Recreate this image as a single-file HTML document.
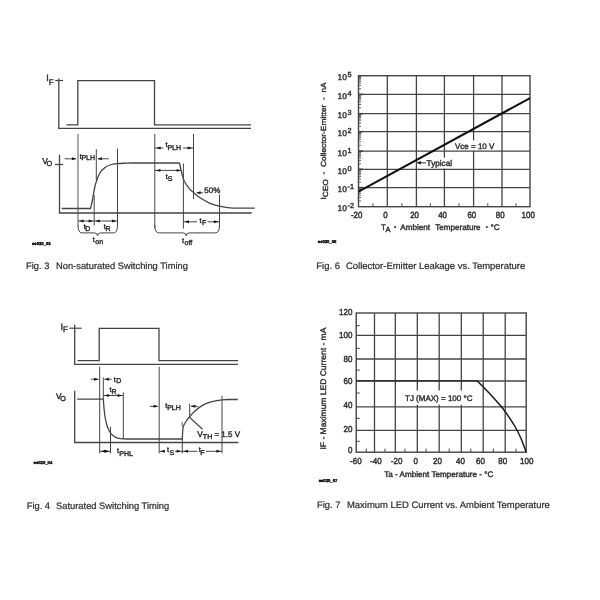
<!DOCTYPE html>
<html><head><meta charset="utf-8"><style>
html,body{margin:0;padding:0;background:#fff;width:600px;height:600px;overflow:hidden}
svg{position:absolute;left:0;top:0;font-family:"Liberation Sans",sans-serif;will-change:transform}
text{text-rendering:geometricPrecision;white-space:pre;stroke:#2e2e2e;stroke-width:0.4px}
.cap{stroke-width:0.22px}
</style></head><body>
<svg width="600" height="600" viewBox="0 0 600 600">
<rect width="600" height="600" fill="#fff"/>
<path d="M58.8,78.5 V128.4 H251" fill="none" stroke="#444" stroke-width="1.3" />
<line x1="55.3" y1="80.5" x2="63" y2="80.5" stroke="#444" stroke-width="1.2" />
<path d="M66.5,124.8 H77.8 V80.6 H154.5 V124.8 H251" fill="none" stroke="#444" stroke-width="1.3" />
<text x="46.3" y="81.0" font-size="9" fill="#2e2e2e">I<tspan font-size="8" dy="3.6">F</tspan></text>
<path d="M59.5,154.7 V213.0 H251.7" fill="none" stroke="#444" stroke-width="1.3" />
<line x1="55" y1="164.5" x2="63.3" y2="164.5" stroke="#444" stroke-width="1.2" />
<text x="42.3" y="163.7" font-size="8.4" fill="#2e2e2e">V</text>
<text x="46.6" y="166.0" font-size="7.4" fill="#2e2e2e">O</text>
<path d="M61.7,208.5 H90.5  C90.83,207.08 91.83,203.33 92.5,200 C93.17,196.67 93.83,191.67 94.5,188.5 C95.17,185.33 95.58,183.62 96.5,181 C97.42,178.38 98.58,175.07 100,172.8 C101.42,170.53 103.33,168.70 105,167.4 C106.67,166.10 108.00,165.62 110,165.0 C112.00,164.38 114.50,164.00 117,163.7 C119.50,163.40 122.00,163.32 125,163.2 C128.00,163.08 133.33,163.03 135,163.0 H179.5" fill="none" stroke="#444" stroke-width="1.3" />
<path d="M179.5,163.0 C179.75,164.17 180.42,167.58 181,170 C181.58,172.42 182.33,175.42 183,177.5 C183.67,179.58 183.83,180.53 185,182.5 C186.17,184.47 188.58,187.63 190,189.3 C191.42,190.97 191.83,191.08 193.5,192.5 C195.17,193.92 197.25,196.00 200,197.8 C202.75,199.60 206.75,201.90 210,203.3 C213.25,204.70 216.17,205.45 219.5,206.2 C222.83,206.95 226.58,207.47 230,207.8 C233.42,208.13 238.33,208.13 240,208.2 H254.7" fill="none" stroke="#444" stroke-width="1.3" />
<line x1="78" y1="133.8" x2="78" y2="226" stroke="#444" stroke-width="0.9" />
<line x1="96.3" y1="149.2" x2="96.3" y2="180" stroke="#444" stroke-width="1.0" />
<line x1="94.2" y1="195" x2="94.2" y2="225.5" stroke="#444" stroke-width="1.0" />
<line x1="117.5" y1="148.5" x2="117.5" y2="226" stroke="#444" stroke-width="1.0" />
<line x1="154.8" y1="134" x2="154.8" y2="228" stroke="#444" stroke-width="1.0" />
<line x1="183.4" y1="163.5" x2="183.4" y2="228.5" stroke="#444" stroke-width="1.0" />
<line x1="193.5" y1="134" x2="193.5" y2="199" stroke="#444" stroke-width="1.0" />
<line x1="219.5" y1="194.5" x2="219.5" y2="227" stroke="#444" stroke-width="1.0" />
<line x1="64.6" y1="158.8" x2="76" y2="158.8" stroke="#444" stroke-width="1.0" />
<polygon points="76.3,158.8 71.89999999999999,157.35000000000002 71.89999999999999,160.25" fill="#151515"/>
<line x1="108.7" y1="158.8" x2="98" y2="158.8" stroke="#444" stroke-width="1.0" />
<polygon points="97.5,158.8 101.9,157.35000000000002 101.9,160.25" fill="#151515"/>
<text x="79.7" y="158.5" font-size="7.2" fill="#2e2e2e">t</text>
<text x="81.4" y="160.1" font-size="7.0" fill="#2e2e2e">PLH</text>
<line x1="155" y1="148" x2="163.5" y2="148" stroke="#444" stroke-width="1.0" />
<polygon points="156.2,148 160.6,146.55 160.6,149.45" fill="#151515"/>
<text x="165.4" y="147.1" font-size="7.2" fill="#2e2e2e">t</text>
<text x="167.4" y="149.7" font-size="7.0" fill="#2e2e2e">PLH</text>
<line x1="183" y1="148" x2="193.3" y2="148" stroke="#444" stroke-width="1.0" />
<polygon points="192.1,148 187.7,146.55 187.7,149.45" fill="#151515"/>
<line x1="154.8" y1="170.4" x2="181" y2="170.4" stroke="#444" stroke-width="1.0" />
<polygon points="156.0,170.4 160.4,168.95000000000002 160.4,171.85" fill="#151515"/>
<polygon points="181.0,170.4 176.6,168.95000000000002 176.6,171.85" fill="#151515"/>
<text x="165.7" y="178.5" font-size="7.2" fill="#2e2e2e">t</text>
<text x="167.7" y="181.4" font-size="7.0" fill="#2e2e2e">S</text>
<text x="204.3" y="193.2" font-size="8" text-anchor="start" fill="#2e2e2e" >50%</text>
<line x1="203" y1="192.8" x2="197" y2="192.8" stroke="#444" stroke-width="1.0" />
<polygon points="196.2,192.8 200.6,191.35000000000002 200.6,194.25" fill="#151515"/>
<line x1="78" y1="221.0" x2="94.2" y2="221.0" stroke="#444" stroke-width="1.0" />
<polygon points="79.2,221.0 83.60000000000001,219.55 83.60000000000001,222.45" fill="#151515"/>
<polygon points="93.0,221.0 88.6,219.55 88.6,222.45" fill="#151515"/>
<line x1="94.2" y1="221.0" x2="117.5" y2="221.0" stroke="#444" stroke-width="1.0" />
<polygon points="95.4,221.0 99.80000000000001,219.55 99.80000000000001,222.45" fill="#151515"/>
<polygon points="116.3,221.0 111.89999999999999,219.55 111.89999999999999,222.45" fill="#151515"/>
<text x="83.7" y="228.8" font-size="7.2" fill="#2e2e2e">t</text>
<text x="85.3" y="231.4" font-size="7.0" fill="#2e2e2e">D</text>
<text x="103.7" y="228.8" font-size="7.2" fill="#2e2e2e">t</text>
<text x="105.4" y="231.4" font-size="7.0" fill="#2e2e2e">R</text>
<path d="M78,225 Q78,232.9 82,232.9 L94.5,232.9 Q97.5,232.9 97.5,235.9 Q97.5,232.9 100.5,232.9 L113.5,232.9 Q117.5,232.9 117.5,225" fill="none" stroke="#444" stroke-width="1.0" />
<text x="92.7" y="241.8" font-size="7.2" fill="#2e2e2e">t</text>
<text x="95.3" y="244.0" font-size="7.0" fill="#2e2e2e">on</text>
<line x1="183.4" y1="221.8" x2="197" y2="221.8" stroke="#444" stroke-width="1.0" />
<polygon points="184.6,221.8 189.0,220.35000000000002 189.0,223.25" fill="#151515"/>
<line x1="207.5" y1="221.8" x2="219.5" y2="221.8" stroke="#444" stroke-width="1.0" />
<polygon points="218.3,221.8 213.9,220.35000000000002 213.9,223.25" fill="#151515"/>
<text x="199.4" y="222.6" font-size="7.2" fill="#2e2e2e">t</text>
<text x="202.0" y="225.0" font-size="7.0" fill="#2e2e2e">F</text>
<path d="M154.8,225 Q154.8,232.9 158.8,232.9 L183.2,232.9 Q186.2,232.9 186.2,235.9 Q186.2,232.9 189.2,232.9 L215.5,232.9 Q219.5,232.9 219.5,225" fill="none" stroke="#444" stroke-width="1.0" />
<text x="182.1" y="242.7" font-size="7.2" fill="#2e2e2e">t</text>
<text x="184.6" y="244.8" font-size="7.0" fill="#2e2e2e">off</text>
<text x="32" y="245" font-size="4.2" text-anchor="start" fill="#000" font-weight="bold" style="stroke:#000;stroke-width:0.35px">ee020_03</text>
<text x="26" y="269.2" font-size="9.35" text-anchor="start" fill="#2e2e2e" class="cap">Fig. 3</text>
<text x="56" y="269.2" font-size="9.35" text-anchor="start" fill="#2e2e2e" class="cap">Non-saturated Switching Timing</text>
<line x1="387.3" y1="75.7" x2="387.3" y2="206.7" stroke="#444" stroke-width="1.3" />
<line x1="416.4" y1="75.7" x2="416.4" y2="206.7" stroke="#444" stroke-width="1.3" />
<line x1="444.4" y1="75.7" x2="444.4" y2="157.6" stroke="#444" stroke-width="1.3" />
<line x1="444.4" y1="168.6" x2="444.4" y2="206.7" stroke="#444" stroke-width="1.3" />
<line x1="473.6" y1="75.7" x2="473.6" y2="140.3" stroke="#444" stroke-width="1.3" />
<line x1="473.6" y1="150.6" x2="473.6" y2="206.7" stroke="#444" stroke-width="1.3" />
<line x1="502.0" y1="75.7" x2="502.0" y2="206.7" stroke="#444" stroke-width="1.3" />
<line x1="358.5" y1="94.4" x2="530.0" y2="94.4" stroke="#444" stroke-width="1.3" />
<line x1="358.5" y1="113.7" x2="530.0" y2="113.7" stroke="#444" stroke-width="1.3" />
<line x1="358.5" y1="131.7" x2="530.0" y2="131.7" stroke="#444" stroke-width="1.3" />
<line x1="358.5" y1="151.2" x2="530.0" y2="151.2" stroke="#444" stroke-width="1.3" />
<line x1="358.5" y1="169.3" x2="530.0" y2="169.3" stroke="#444" stroke-width="1.3" />
<line x1="358.5" y1="187.6" x2="530.0" y2="187.6" stroke="#444" stroke-width="1.3" />
<rect x="358.5" y="75.7" width="171.5" height="131.0" fill="none" stroke="#444" stroke-width="1.4"/>
<line x1="358.5" y1="88.77" x2="361.1" y2="88.77" stroke="#444" stroke-width="0.8" />
<line x1="358.5" y1="85.48" x2="361.1" y2="85.48" stroke="#444" stroke-width="0.8" />
<line x1="358.5" y1="83.14" x2="361.1" y2="83.14" stroke="#444" stroke-width="0.8" />
<line x1="358.5" y1="81.33" x2="361.1" y2="81.33" stroke="#444" stroke-width="0.8" />
<line x1="358.5" y1="79.85" x2="361.1" y2="79.85" stroke="#444" stroke-width="0.8" />
<line x1="358.5" y1="78.6" x2="361.1" y2="78.6" stroke="#444" stroke-width="0.8" />
<line x1="358.5" y1="77.51" x2="361.1" y2="77.51" stroke="#444" stroke-width="0.8" />
<line x1="358.5" y1="76.56" x2="361.1" y2="76.56" stroke="#444" stroke-width="0.8" />
<line x1="358.5" y1="107.89" x2="361.1" y2="107.89" stroke="#444" stroke-width="0.8" />
<line x1="358.5" y1="104.49" x2="361.1" y2="104.49" stroke="#444" stroke-width="0.8" />
<line x1="358.5" y1="102.08" x2="361.1" y2="102.08" stroke="#444" stroke-width="0.8" />
<line x1="358.5" y1="100.21" x2="361.1" y2="100.21" stroke="#444" stroke-width="0.8" />
<line x1="358.5" y1="98.68" x2="361.1" y2="98.68" stroke="#444" stroke-width="0.8" />
<line x1="358.5" y1="97.39" x2="361.1" y2="97.39" stroke="#444" stroke-width="0.8" />
<line x1="358.5" y1="96.27" x2="361.1" y2="96.27" stroke="#444" stroke-width="0.8" />
<line x1="358.5" y1="95.28" x2="361.1" y2="95.28" stroke="#444" stroke-width="0.8" />
<line x1="358.5" y1="126.28" x2="361.1" y2="126.28" stroke="#444" stroke-width="0.8" />
<line x1="358.5" y1="123.11" x2="361.1" y2="123.11" stroke="#444" stroke-width="0.8" />
<line x1="358.5" y1="120.86" x2="361.1" y2="120.86" stroke="#444" stroke-width="0.8" />
<line x1="358.5" y1="119.12" x2="361.1" y2="119.12" stroke="#444" stroke-width="0.8" />
<line x1="358.5" y1="117.69" x2="361.1" y2="117.69" stroke="#444" stroke-width="0.8" />
<line x1="358.5" y1="116.49" x2="361.1" y2="116.49" stroke="#444" stroke-width="0.8" />
<line x1="358.5" y1="115.44" x2="361.1" y2="115.44" stroke="#444" stroke-width="0.8" />
<line x1="358.5" y1="114.52" x2="361.1" y2="114.52" stroke="#444" stroke-width="0.8" />
<line x1="358.5" y1="145.33" x2="361.1" y2="145.33" stroke="#444" stroke-width="0.8" />
<line x1="358.5" y1="141.9" x2="361.1" y2="141.9" stroke="#444" stroke-width="0.8" />
<line x1="358.5" y1="139.46" x2="361.1" y2="139.46" stroke="#444" stroke-width="0.8" />
<line x1="358.5" y1="137.57" x2="361.1" y2="137.57" stroke="#444" stroke-width="0.8" />
<line x1="358.5" y1="136.03" x2="361.1" y2="136.03" stroke="#444" stroke-width="0.8" />
<line x1="358.5" y1="134.72" x2="361.1" y2="134.72" stroke="#444" stroke-width="0.8" />
<line x1="358.5" y1="133.59" x2="361.1" y2="133.59" stroke="#444" stroke-width="0.8" />
<line x1="358.5" y1="132.59" x2="361.1" y2="132.59" stroke="#444" stroke-width="0.8" />
<line x1="358.5" y1="163.85" x2="361.1" y2="163.85" stroke="#444" stroke-width="0.8" />
<line x1="358.5" y1="160.66" x2="361.1" y2="160.66" stroke="#444" stroke-width="0.8" />
<line x1="358.5" y1="158.4" x2="361.1" y2="158.4" stroke="#444" stroke-width="0.8" />
<line x1="358.5" y1="156.65" x2="361.1" y2="156.65" stroke="#444" stroke-width="0.8" />
<line x1="358.5" y1="155.22" x2="361.1" y2="155.22" stroke="#444" stroke-width="0.8" />
<line x1="358.5" y1="154.0" x2="361.1" y2="154.0" stroke="#444" stroke-width="0.8" />
<line x1="358.5" y1="152.95" x2="361.1" y2="152.95" stroke="#444" stroke-width="0.8" />
<line x1="358.5" y1="152.03" x2="361.1" y2="152.03" stroke="#444" stroke-width="0.8" />
<line x1="358.5" y1="182.09" x2="361.1" y2="182.09" stroke="#444" stroke-width="0.8" />
<line x1="358.5" y1="178.87" x2="361.1" y2="178.87" stroke="#444" stroke-width="0.8" />
<line x1="358.5" y1="176.58" x2="361.1" y2="176.58" stroke="#444" stroke-width="0.8" />
<line x1="358.5" y1="174.81" x2="361.1" y2="174.81" stroke="#444" stroke-width="0.8" />
<line x1="358.5" y1="173.36" x2="361.1" y2="173.36" stroke="#444" stroke-width="0.8" />
<line x1="358.5" y1="172.13" x2="361.1" y2="172.13" stroke="#444" stroke-width="0.8" />
<line x1="358.5" y1="171.07" x2="361.1" y2="171.07" stroke="#444" stroke-width="0.8" />
<line x1="358.5" y1="170.14" x2="361.1" y2="170.14" stroke="#444" stroke-width="0.8" />
<line x1="358.5" y1="200.95" x2="361.1" y2="200.95" stroke="#444" stroke-width="0.8" />
<line x1="358.5" y1="197.59" x2="361.1" y2="197.59" stroke="#444" stroke-width="0.8" />
<line x1="358.5" y1="195.2" x2="361.1" y2="195.2" stroke="#444" stroke-width="0.8" />
<line x1="358.5" y1="193.35" x2="361.1" y2="193.35" stroke="#444" stroke-width="0.8" />
<line x1="358.5" y1="191.84" x2="361.1" y2="191.84" stroke="#444" stroke-width="0.8" />
<line x1="358.5" y1="190.56" x2="361.1" y2="190.56" stroke="#444" stroke-width="0.8" />
<line x1="358.5" y1="189.45" x2="361.1" y2="189.45" stroke="#444" stroke-width="0.8" />
<line x1="358.5" y1="188.47" x2="361.1" y2="188.47" stroke="#444" stroke-width="0.8" />
<line x1="358.5" y1="94.4" x2="363.0" y2="94.4" stroke="#444" stroke-width="1.6" />
<line x1="358.5" y1="113.7" x2="363.0" y2="113.7" stroke="#444" stroke-width="1.6" />
<line x1="358.5" y1="131.7" x2="363.0" y2="131.7" stroke="#444" stroke-width="1.6" />
<line x1="358.5" y1="151.2" x2="363.0" y2="151.2" stroke="#444" stroke-width="1.6" />
<line x1="358.5" y1="169.3" x2="363.0" y2="169.3" stroke="#444" stroke-width="1.6" />
<line x1="358.5" y1="187.6" x2="363.0" y2="187.6" stroke="#444" stroke-width="1.6" />
<line x1="372.9" y1="206.7" x2="372.9" y2="203.2" stroke="#444" stroke-width="0.9" />
<line x1="401.85" y1="206.7" x2="401.85" y2="203.2" stroke="#444" stroke-width="0.9" />
<line x1="430.4" y1="206.7" x2="430.4" y2="203.2" stroke="#444" stroke-width="0.9" />
<line x1="459.0" y1="206.7" x2="459.0" y2="203.2" stroke="#444" stroke-width="0.9" />
<line x1="487.8" y1="206.7" x2="487.8" y2="203.2" stroke="#444" stroke-width="0.9" />
<line x1="516.0" y1="206.7" x2="516.0" y2="203.2" stroke="#444" stroke-width="0.9" />
<line x1="358.5" y1="191.6" x2="530" y2="98.1" stroke="#111" stroke-width="2.0" />
<text x="455" y="148.8" font-size="8" text-anchor="start" fill="#2e2e2e" >Vce = 10 V</text>
<line x1="426" y1="162.8" x2="419" y2="162.8" stroke="#444" stroke-width="1.1" />
<polygon points="416.3,162.8 420.8,161.10000000000002 420.8,164.5" fill="#151515"/>
<text x="426.6" y="166.3" font-size="8.2" text-anchor="start" fill="#2e2e2e" >Typical</text>
<text x="337.5" y="80.0" font-size="8.4" text-anchor="start" fill="#2e2e2e" >10</text>
<text x="347.6" y="77.0" font-size="7.3" text-anchor="start" fill="#2e2e2e" >5</text>
<text x="337.5" y="98.7" font-size="8.4" text-anchor="start" fill="#2e2e2e" >10</text>
<text x="347.6" y="95.7" font-size="7.3" text-anchor="start" fill="#2e2e2e" >4</text>
<text x="337.5" y="118.0" font-size="8.4" text-anchor="start" fill="#2e2e2e" >10</text>
<text x="347.6" y="115.0" font-size="7.3" text-anchor="start" fill="#2e2e2e" >3</text>
<text x="337.5" y="136.0" font-size="8.4" text-anchor="start" fill="#2e2e2e" >10</text>
<text x="347.6" y="133.0" font-size="7.3" text-anchor="start" fill="#2e2e2e" >2</text>
<text x="337.5" y="155.5" font-size="8.4" text-anchor="start" fill="#2e2e2e" >10</text>
<text x="347.6" y="152.5" font-size="7.3" text-anchor="start" fill="#2e2e2e" >1</text>
<text x="337.5" y="173.6" font-size="8.4" text-anchor="start" fill="#2e2e2e" >10</text>
<text x="347.6" y="170.6" font-size="7.3" text-anchor="start" fill="#2e2e2e" >0</text>
<text x="337.5" y="191.9" font-size="8.4" text-anchor="start" fill="#2e2e2e" >10</text>
<text x="347.6" y="188.9" font-size="7.3" text-anchor="start" fill="#2e2e2e" >-1</text>
<text x="337.5" y="211.0" font-size="8.4" text-anchor="start" fill="#2e2e2e" >10</text>
<text x="347.6" y="208.0" font-size="7.3" text-anchor="start" fill="#2e2e2e" >-2</text>
<text transform="translate(356.7,217.7) scale(1,1.12)" font-size="7.9" text-anchor="middle" fill="#2e2e2e" >-20</text>
<text transform="translate(385.5,217.7) scale(1,1.12)" font-size="7.9" text-anchor="middle" fill="#2e2e2e" >0</text>
<text transform="translate(414.6,217.7) scale(1,1.12)" font-size="7.9" text-anchor="middle" fill="#2e2e2e" >20</text>
<text transform="translate(442.6,217.7) scale(1,1.12)" font-size="7.9" text-anchor="middle" fill="#2e2e2e" >40</text>
<text transform="translate(471.8,217.7) scale(1,1.12)" font-size="7.9" text-anchor="middle" fill="#2e2e2e" >60</text>
<text transform="translate(500.2,217.7) scale(1,1.12)" font-size="7.9" text-anchor="middle" fill="#2e2e2e" >80</text>
<text transform="translate(528.2,217.7) scale(1,1.12)" font-size="7.9" text-anchor="middle" fill="#2e2e2e" >100</text>
<text x="380.9" y="229.7" font-size="8.15" text-anchor="start" fill="#2e2e2e" >T</text>
<text x="385.6" y="232.2" font-size="7.5" text-anchor="start" fill="#2e2e2e" >A</text>
<circle cx="395.1" cy="227.1" r="1.05" fill="#2e2e2e"/>
<text x="400.3" y="229.7" font-size="8.15" text-anchor="start" fill="#2e2e2e" >Ambient</text>
<text x="435.2" y="229.7" font-size="8.1" text-anchor="start" fill="#2e2e2e" >Temperature</text>
<circle cx="486.8" cy="227.1" r="1.05" fill="#2e2e2e"/>
<text x="490.6" y="229.7" font-size="8.15" text-anchor="start" fill="#2e2e2e" >°C</text>
<text transform="translate(325.5,199.6) rotate(-90) scale(1,0.88)" x="0" y="0" font-size="8.4" fill="#2e2e2e">I<tspan font-size="8.4" dy="2.7">CEO</tspan><tspan dy="-2.7">  -  Collector-Emitter  -  nA</tspan></text>
<text x="317.8" y="243.1" font-size="4.2" text-anchor="start" fill="#000" font-weight="bold" style="stroke:#000;stroke-width:0.35px">ee020_06</text>
<text x="316.3" y="268.8" font-size="9.45" text-anchor="start" fill="#2e2e2e" class="cap">Fig. 6</text>
<text x="346.0" y="268.8" font-size="9.45" text-anchor="start" fill="#2e2e2e" class="cap">Collector-Emitter Leakage vs. Temperature</text>
<path d="M74.7,324.7 V364.4 H238" fill="none" stroke="#444" stroke-width="1.3" />
<line x1="69.2" y1="328.2" x2="81.7" y2="328.2" stroke="#444" stroke-width="1.2" />
<path d="M77.5,360.6 H99.2 V328.3 H159 V360.6 H238" fill="none" stroke="#444" stroke-width="1.3" />
<text x="60.5" y="329.5" font-size="9" fill="#2e2e2e">I<tspan font-size="8" dy="2.8">F</tspan></text>
<path d="M74.7,390.8 V442.5 H238.3" fill="none" stroke="#444" stroke-width="1.3" />
<text x="56.1" y="398.5" font-size="8.2" fill="#2e2e2e">V</text>
<text x="60.2" y="401.0" font-size="7.2" fill="#2e2e2e">O</text>
<path d="M77.2,399.2 H103.3  C103.42,400.67 103.68,404.87 104,408 C104.32,411.13 104.62,414.83 105.2,418 C105.78,421.17 106.53,424.38 107.5,427 C108.47,429.62 109.58,431.93 111,433.7 C112.42,435.47 113.92,436.73 116,437.6 C118.08,438.47 121.17,438.67 123.5,438.9 C125.83,439.13 128.92,438.98 130,439.0 H182.3" fill="none" stroke="#444" stroke-width="1.3" />
<path d="M182.3,439.0 C182.38,437.50 182.60,432.17 182.8,430 C183.00,427.83 182.97,427.42 183.5,426 C184.03,424.58 185.03,423.00 186,421.5 C186.97,420.00 187.80,418.75 189.3,417 C190.80,415.25 192.88,412.90 195,411 C197.12,409.10 199.50,407.07 202,405.6 C204.50,404.13 206.67,403.17 210,402.2 C213.33,401.23 218.67,400.25 222,399.8 C225.33,399.35 228.67,399.55 230,399.5 H237.8" fill="none" stroke="#444" stroke-width="1.3" />
<line x1="99.7" y1="366.7" x2="99.7" y2="453.3" stroke="#444" stroke-width="1.0" />
<line x1="103.3" y1="377.5" x2="103.3" y2="399" stroke="#444" stroke-width="1.0" />
<line x1="110.5" y1="426.7" x2="110.5" y2="453.3" stroke="#444" stroke-width="1.0" />
<line x1="123.3" y1="392.5" x2="123.3" y2="439" stroke="#444" stroke-width="1.0" />
<line x1="159.2" y1="366.7" x2="159.2" y2="453.3" stroke="#444" stroke-width="1.0" />
<line x1="182.3" y1="438" x2="182.3" y2="453.5" stroke="#444" stroke-width="1.0" />
<line x1="189.7" y1="403.7" x2="189.7" y2="415.8" stroke="#444" stroke-width="1.0" />
<line x1="222" y1="395.8" x2="222" y2="453.3" stroke="#444" stroke-width="1.0" />
<line x1="90.8" y1="379.2" x2="98.5" y2="379.2" stroke="#444" stroke-width="1.0" />
<polygon points="98.5,379.2 94.1,377.75 94.1,380.65" fill="#151515"/>
<line x1="111.7" y1="379.2" x2="104.5" y2="379.2" stroke="#444" stroke-width="1.0" />
<polygon points="104.5,379.2 108.9,377.75 108.9,380.65" fill="#151515"/>
<text x="113.8" y="381.5" font-size="7.2" fill="#2e2e2e">t</text>
<text x="116.3" y="383.4" font-size="7.0" fill="#2e2e2e">D</text>
<line x1="103.3" y1="395.5" x2="123.3" y2="395.5" stroke="#444" stroke-width="1.0" />
<polygon points="104.5,395.5 108.9,394.05 108.9,396.95" fill="#151515"/>
<polygon points="122.1,395.5 117.69999999999999,394.05 117.69999999999999,396.95" fill="#151515"/>
<text x="109.5" y="391.6" font-size="7.2" fill="#2e2e2e">t</text>
<text x="111.5" y="393.5" font-size="7.0" fill="#2e2e2e">R</text>
<line x1="99.7" y1="451.3" x2="110.5" y2="451.3" stroke="#444" stroke-width="1.0" />
<polygon points="100.9,451.3 105.30000000000001,449.85 105.30000000000001,452.75" fill="#151515"/>
<polygon points="109.3,451.3 104.89999999999999,449.85 104.89999999999999,452.75" fill="#151515"/>
<text x="116.9" y="453.4" font-size="7.2" fill="#2e2e2e">t</text>
<text x="119.3" y="456.0" font-size="7.0" fill="#2e2e2e">PHL</text>
<line x1="150" y1="406.3" x2="158" y2="406.3" stroke="#444" stroke-width="1.0" />
<polygon points="158.0,406.3 153.6,404.85 153.6,407.75" fill="#151515"/>
<line x1="198.3" y1="406.3" x2="191" y2="406.3" stroke="#444" stroke-width="1.0" />
<polygon points="190.9,406.3 195.3,404.85 195.3,407.75" fill="#151515"/>
<text x="165.3" y="407.8" font-size="7.2" fill="#2e2e2e">t</text>
<text x="167.2" y="410.2" font-size="7.0" fill="#2e2e2e">PLH</text>
<line x1="189.2" y1="417" x2="202.5" y2="429.2" stroke="#444" stroke-width="1.2" />
<line x1="182.2" y1="422" x2="182.2" y2="426.5" stroke="#444" stroke-width="0.8" />
<text x="197.2" y="436.6" font-size="8.5" fill="#2e2e2e">V<tspan font-size="7" dy="2">TH</tspan></text>
<text x="214.4" y="437.1" font-size="8.0" text-anchor="start" fill="#2e2e2e" >= 1.5 V</text>
<line x1="159.2" y1="451.3" x2="165" y2="451.3" stroke="#444" stroke-width="1.0" />
<polygon points="160.4,451.3 164.8,449.85 164.8,452.75" fill="#151515"/>
<line x1="175" y1="451.3" x2="182.3" y2="451.3" stroke="#444" stroke-width="1.0" />
<polygon points="181.1,451.3 176.7,449.85 176.7,452.75" fill="#151515"/>
<text x="166.9" y="452.4" font-size="7.2" fill="#2e2e2e">t</text>
<text x="169.5" y="455.2" font-size="7.0" fill="#2e2e2e">S</text>
<line x1="182.3" y1="451.3" x2="197.5" y2="451.3" stroke="#444" stroke-width="1.0" />
<polygon points="183.5,451.3 187.9,449.85 187.9,452.75" fill="#151515"/>
<line x1="206" y1="451.3" x2="222" y2="451.3" stroke="#444" stroke-width="1.0" />
<polygon points="220.8,451.3 216.4,449.85 216.4,452.75" fill="#151515"/>
<text x="198.8" y="452.4" font-size="7.2" fill="#2e2e2e">t</text>
<text x="200.3" y="455.2" font-size="7.0" fill="#2e2e2e">F</text>
<text x="33.6" y="463.6" font-size="4.2" text-anchor="start" fill="#000" font-weight="bold" style="stroke:#000;stroke-width:0.35px">ee020_04</text>
<text x="26.7" y="508.9" font-size="9.35" text-anchor="start" fill="#2e2e2e" class="cap">Fig. 4</text>
<text x="56" y="508.9" font-size="9.35" text-anchor="start" fill="#2e2e2e" class="cap">Saturated Switching Timing</text>
<line x1="374.5" y1="313" x2="374.5" y2="452.2" stroke="#444" stroke-width="1.3" />
<line x1="395.3" y1="313" x2="395.3" y2="452.2" stroke="#444" stroke-width="1.3" />
<line x1="417.3" y1="313" x2="417.3" y2="390.5" stroke="#444" stroke-width="1.3" />
<line x1="417.3" y1="404.7" x2="417.3" y2="452.2" stroke="#444" stroke-width="1.3" />
<line x1="439.2" y1="313" x2="439.2" y2="390.5" stroke="#444" stroke-width="1.3" />
<line x1="439.2" y1="404.7" x2="439.2" y2="452.2" stroke="#444" stroke-width="1.3" />
<line x1="461.3" y1="313" x2="461.3" y2="390.5" stroke="#444" stroke-width="1.3" />
<line x1="461.3" y1="404.7" x2="461.3" y2="452.2" stroke="#444" stroke-width="1.3" />
<line x1="483.2" y1="313" x2="483.2" y2="452.2" stroke="#444" stroke-width="1.3" />
<line x1="505.2" y1="313" x2="505.2" y2="452.2" stroke="#444" stroke-width="1.3" />
<line x1="356.2" y1="335.4" x2="526.2" y2="335.4" stroke="#444" stroke-width="1.3" />
<line x1="356.2" y1="359" x2="526.2" y2="359" stroke="#444" stroke-width="1.3" />
<line x1="356.2" y1="381" x2="526.2" y2="381" stroke="#444" stroke-width="1.3" />
<line x1="356.2" y1="406.8" x2="526.2" y2="406.8" stroke="#444" stroke-width="1.3" />
<line x1="356.2" y1="430.3" x2="526.2" y2="430.3" stroke="#444" stroke-width="1.3" />
<rect x="356.2" y="313" width="170.00000000000006" height="139.2" fill="none" stroke="#444" stroke-width="1.4"/>
<line x1="356.2" y1="325.7" x2="359.8" y2="325.7" stroke="#444" stroke-width="1.0" />
<line x1="356.2" y1="348.3" x2="359.8" y2="348.3" stroke="#444" stroke-width="1.0" />
<line x1="356.2" y1="370.1" x2="359.8" y2="370.1" stroke="#444" stroke-width="1.0" />
<line x1="356.2" y1="393" x2="359.8" y2="393" stroke="#444" stroke-width="1.0" />
<line x1="356.2" y1="418.3" x2="359.8" y2="418.3" stroke="#444" stroke-width="1.0" />
<line x1="356.2" y1="441.3" x2="359.8" y2="441.3" stroke="#444" stroke-width="1.0" />
<line x1="366.3" y1="452.2" x2="366.3" y2="448.59999999999997" stroke="#444" stroke-width="1.0" />
<line x1="385" y1="452.2" x2="385" y2="448.59999999999997" stroke="#444" stroke-width="1.0" />
<line x1="405" y1="452.2" x2="405" y2="448.59999999999997" stroke="#444" stroke-width="1.0" />
<line x1="426" y1="452.2" x2="426" y2="448.59999999999997" stroke="#444" stroke-width="1.0" />
<line x1="449.2" y1="452.2" x2="449.2" y2="448.59999999999997" stroke="#444" stroke-width="1.0" />
<line x1="470.8" y1="452.2" x2="470.8" y2="448.59999999999997" stroke="#444" stroke-width="1.0" />
<line x1="493.3" y1="452.2" x2="493.3" y2="448.59999999999997" stroke="#444" stroke-width="1.0" />
<line x1="516" y1="452.2" x2="516" y2="448.59999999999997" stroke="#444" stroke-width="1.0" />
<line x1="356.2" y1="380.8" x2="477" y2="380.8" stroke="#333" stroke-width="1.6" />
<path d="M477,380.8 C478.33,382.13 482.33,386.07 485,388.8 C487.67,391.53 490.33,394.28 493,397.2 C495.67,400.12 498.50,403.23 501,406.3 C503.50,409.37 505.67,412.23 508,415.6 C510.33,418.97 512.83,422.68 515,426.5 C517.17,430.32 519.13,434.22 521,438.5 C522.87,442.78 525.33,449.92 526.2,452.2" fill="none" stroke="#1a1a1a" stroke-width="1.5" />
<text x="405" y="401" font-size="8" text-anchor="start" fill="#2e2e2e" >TJ (MAX) = 100 °C</text>
<text transform="translate(352.4,315.3) scale(1,1.1)" font-size="8.0" text-anchor="end" fill="#2e2e2e" >120</text>
<text transform="translate(352.4,337.6) scale(1,1.1)" font-size="8.0" text-anchor="end" fill="#2e2e2e" >100</text>
<text transform="translate(352.4,362.3) scale(1,1.1)" font-size="8.0" text-anchor="end" fill="#2e2e2e" >80</text>
<text transform="translate(352.4,383.9) scale(1,1.1)" font-size="8.0" text-anchor="end" fill="#2e2e2e" >60</text>
<text transform="translate(352.4,407.6) scale(1,1.1)" font-size="8.0" text-anchor="end" fill="#2e2e2e" >40</text>
<text transform="translate(352.4,432.3) scale(1,1.1)" font-size="8.0" text-anchor="end" fill="#2e2e2e" >20</text>
<text transform="translate(352.4,453.3) scale(1,1.1)" font-size="8.0" text-anchor="end" fill="#2e2e2e" >0</text>
<text transform="translate(355.8,464.2) scale(1,1.1)" font-size="8.0" text-anchor="middle" fill="#2e2e2e" >-60</text>
<text transform="translate(375.8,464.2) scale(1,1.1)" font-size="8.0" text-anchor="middle" fill="#2e2e2e" >-40</text>
<text transform="translate(396.7,464.2) scale(1,1.1)" font-size="8.0" text-anchor="middle" fill="#2e2e2e" >-20</text>
<text transform="translate(415.8,464.2) scale(1,1.1)" font-size="8.0" text-anchor="middle" fill="#2e2e2e" >0</text>
<text transform="translate(437.5,464.2) scale(1,1.1)" font-size="8.0" text-anchor="middle" fill="#2e2e2e" >20</text>
<text transform="translate(460.5,464.2) scale(1,1.1)" font-size="8.0" text-anchor="middle" fill="#2e2e2e" >40</text>
<text transform="translate(480.5,464.2) scale(1,1.1)" font-size="8.0" text-anchor="middle" fill="#2e2e2e" >60</text>
<text transform="translate(502.8,464.2) scale(1,1.1)" font-size="8.0" text-anchor="middle" fill="#2e2e2e" >80</text>
<text transform="translate(526.7,464.2) scale(1,1.1)" font-size="8.0" text-anchor="middle" fill="#2e2e2e" >100</text>
<text x="384.2" y="477" font-size="8.15" text-anchor="start" fill="#2e2e2e" >Ta - Ambient Temperature - °C</text>
<text transform="translate(326.0,449.5) rotate(-90) scale(1,0.95)" x="0" y="0" font-size="8.5" fill="#2e2e2e">IF - Maximum LED Current - mA</text>
<text x="318.7" y="482.4" font-size="4.2" text-anchor="start" fill="#000" font-weight="bold" style="stroke:#000;stroke-width:0.35px">ee020_07</text>
<text x="317" y="508" font-size="9.45" text-anchor="start" fill="#2e2e2e" class="cap">Fig. 7</text>
<text x="347" y="508" font-size="9.45" text-anchor="start" fill="#2e2e2e" class="cap">Maximum LED Current vs. Ambient Temperature</text>
</svg>
</body></html>
